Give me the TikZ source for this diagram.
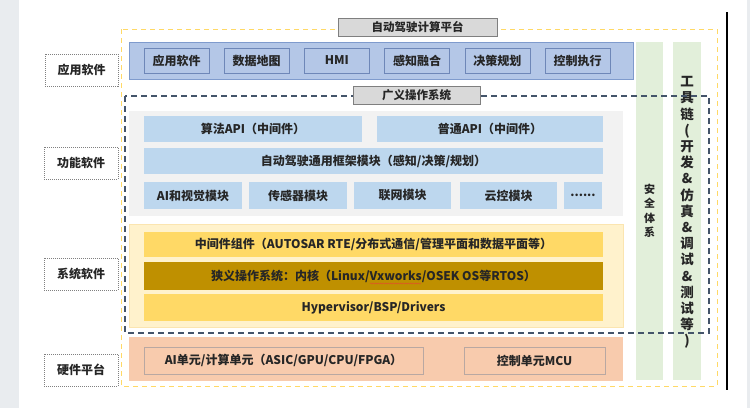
\documentclass[tikz,border=0pt]{standalone}
\usepackage{fontspec}
\setmainfont{Noto Sans CJK SC}
\usetikzlibrary{decorations.pathmorphing}
\definecolor{bgstrip}{HTML}{E9ECEF}
\definecolor{appfill}{HTML}{B4C7E7}
\definecolor{appline}{HTML}{7F9BCD}
\definecolor{appinner}{HTML}{6E87B8}
\definecolor{funcfill}{HTML}{F2F2F2}
\definecolor{funcbox}{HTML}{BDD7EE}
\definecolor{sysfill}{HTML}{FFF2CC}
\definecolor{sysline}{HTML}{FBE5B0}
\definecolor{goldlt}{HTML}{FFD966}
\definecolor{golddk}{HTML}{BF9000}
\definecolor{hwfill}{HTML}{F8CBAD}
\definecolor{hwline}{HTML}{B9A8A2}
\definecolor{greenfill}{HTML}{E2EFDA}
\definecolor{yeldash}{HTML}{FFD966}
\definecolor{bluedash}{HTML}{44546A}
\definecolor{titlefill}{HTML}{D9D9D9}
\definecolor{titleline}{HTML}{7F7F7F}
\definecolor{txt}{HTML}{262626}
\definecolor{squig}{HTML}{E0502A}
\newcommand\mybox[7]{\node[#2, minimum width={#5-#3}, minimum height={#6-#4}] (#1) at ({(#3+#5)/2},{(#4+#6)/2}) {#7};}
\begin{document}
\begin{tikzpicture}[x=1pt,y=-1pt,
  base/.style={inner sep=0pt, outer sep=0pt, rectangle, text=txt, font=\bfseries\fontsize{12}{13}\selectfont},
  titlebox/.style={base, fill=titlefill, draw=titleline, line width=0.8pt, font=\bfseries\fontsize{11.5}{13}\selectfont},
  sidelabel/.style={base, fill=white, draw=gray, line width=0.8pt, dash pattern=on 1pt off 1pt},
  appband/.style={base, fill=appfill, draw=appline, line width=0.8pt},
  appbox/.style={base, fill=appfill, draw=appinner, line width=0.6pt},
  funcband/.style={base, fill=funcfill},
  funcbox/.style={base, fill=funcbox},
  sysband/.style={base, fill=sysfill, draw=sysline, line width=0.6pt},
  goldbox/.style={base, fill=goldlt},
  darkbox/.style={base, fill=golddk},
  hwband/.style={base, fill=hwfill},
  hwbox/.style={base, fill=hwfill, draw=hwline, line width=0.6pt},
  greencol/.style={base, fill=greenfill},
  yframe/.style={draw=yeldash, line width=1pt, dash pattern=on 5pt off 4pt},
  bframe/.style={draw=bluedash, line width=1.1pt, dash pattern=on 6pt off 4pt},
  vtext/.style={inner sep=0pt, text=txt, align=center}
]
\useasboundingbox (0,0) rectangle (750,408);
\fill[bgstrip] (0,0) rectangle (19,408);
\fill[bgstrip] (747,0) rectangle (750,408);
\draw[line width=1.5pt] (727,12) -- (727,390);

% outer platform frame
\coordinate (yA) at (121,29);
\coordinate (yB) at (717,386);
\draw[yframe] (yA) rectangle (yB);

% bands
\mybox{appband}{appband}{129}{42}{633}{79}{}
\mybox{funcband}{funcband}{129}{111}{623}{216}{}
\mybox{sysband}{sysband}{129}{224}{623}{327}{}
\mybox{hwband}{hwband}{129}{337}{623}{381}{}
\mybox{safety}{greencol}{636}{42}{663}{380}{}
\mybox{tool}{greencol}{673}{42}{701}{380}{}

% application boxes
\mybox{a1}{appbox}{144}{48}{209}{73}{应用软件}
\mybox{a2}{appbox}{224.2}{48}{289.2}{73}{数据地图}
\mybox{a3}{appbox}{304.4}{48}{369.4}{73}{HMI}
\mybox{a4}{appbox}{384.6}{48}{449.6}{73}{感知融合}
\mybox{a5}{appbox}{464.8}{48}{529.8}{73}{决策规划}
\mybox{a6}{appbox}{545}{48}{610}{73}{控制执行}

% function software
\mybox{f1}{funcbox}{144}{116}{362}{142}{算法API（中间件）}
\mybox{f2}{funcbox}{377}{116}{603}{142}{普通API（中间件）}
\mybox{f3}{funcbox}{144}{148}{603}{174}{自动驾驶通用框架模块（感知/决策/规划）}
\mybox{f4}{funcbox}{144}{182}{242}{209}{AI和视觉模块}
\mybox{f5}{funcbox}{249}{182}{347}{209}{传感器模块}
\mybox{f6}{funcbox}{354}{182}{451}{209}{联网模块}
\mybox{f7}{funcbox}{460}{182}{557}{209}{云控模块}
\mybox{f8}{funcbox}{564}{182}{602}{209}{......}

% system software
\mybox{s1}{goldbox}{144}{232}{603}{257}{中间件组件（AUTOSAR RTE/分布式通信/管理平面和数据平面等）}
\mybox{s2}{darkbox}{144}{262}{603}{290}{狭义操作系统：内核（Linux/Vxworks/OSEK OS等RTOS）}
\mybox{s3}{goldbox}{144}{294}{603}{321}{Hypervisor/BSP/Drivers}
\draw[squig, line width=0.5pt, decorate, decoration={snake, amplitude=0.5pt, segment length=2.5pt}] (370,283.5) -- (421,283.5);

% hardware
\mybox{h1}{hwbox}{144}{347}{423}{374}{AI单元/计算单元（ASIC/GPU/CPU/FPGA）}
\mybox{h2}{hwbox}{464}{347}{605}{374}{控制单元MCU}

% vertical texts
\node[vtext, font=\bfseries\fontsize{11}{14.5}\selectfont] (safetytxt) at (safety.center) {安\\全\\体\\系};
\node[vtext, font=\bfseries\fontsize{13.5}{16.2}\selectfont] (tooltxt) at (687,212.5) {工\\具\\链\\(\\开\\发\\\&\\仿\\真\\\&\\调\\试\\\&\\测\\试\\等\\)};

% generalized OS frame
\coordinate (bA) at (125,96);
\coordinate (bB) at (709,333);
\draw[bframe] (bA) rectangle (bB);

% titles
\mybox{t1}{titlebox}{338}{18}{497}{36}{自动驾驶计算平台}
\mybox{t2}{titlebox}{353}{86}{480}{104}{广义操作系统}

% side labels
\mybox{l1}{sidelabel}{45}{54}{118}{86}{应用软件}
\mybox{l2}{sidelabel}{44}{147}{118}{179}{功能软件}
\mybox{l3}{sidelabel}{44}{258}{118}{290}{系统软件}
\mybox{l4}{sidelabel}{44}{354}{118}{386}{硬件平台}
\end{tikzpicture}
\end{document}
